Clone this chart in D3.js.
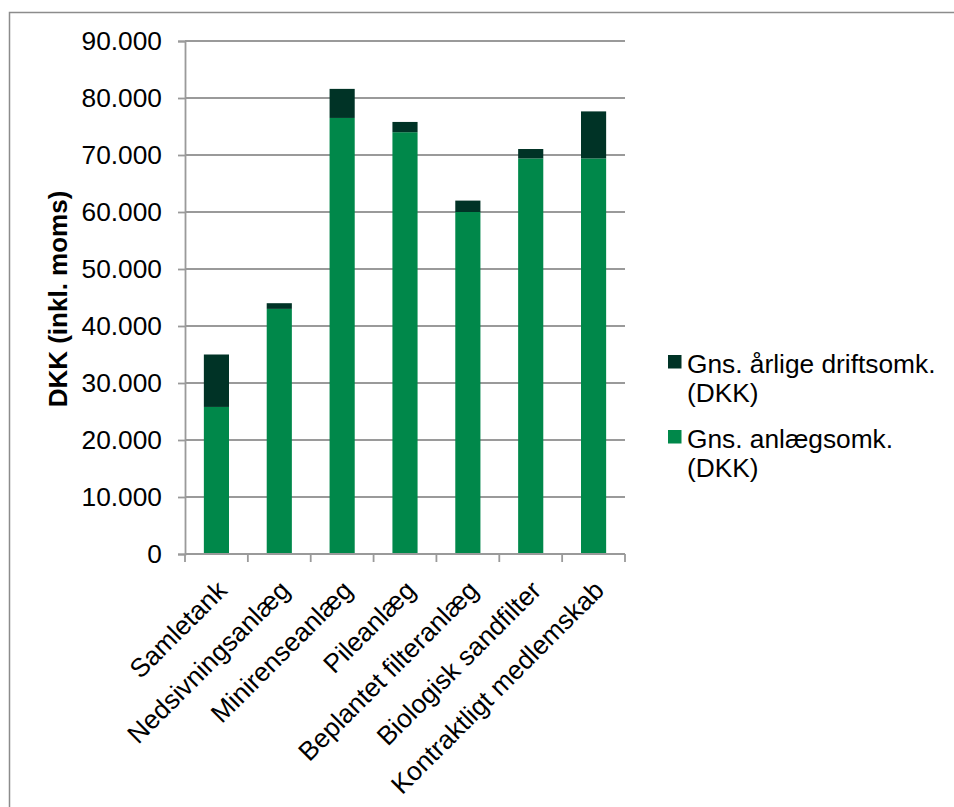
<!DOCTYPE html>
<html>
<head>
<meta charset="utf-8">
<script src="https://cdn.jsdelivr.net/npm/d3@7"></script>
<style>
  html, body { margin: 0; padding: 0; background: #fff; }
  svg { display: block; font-family: "Liberation Sans", Arial, sans-serif; }
</style>
</head>
<body>
<svg id="chart" width="954" height="807"></svg>
<script>
const categories = ["Samletank", "Nedsivningsanlæg", "Minirenseanlæg", "Pileanlæg",
  "Beplantet filteranlæg", "Biologisk sandfilter", "Kontraktligt medlemskab"];
const anlaeg = [25800, 43000, 76500, 74000, 60000, 69400, 69400];
const drift = [9200, 1000, 5100, 1800, 2000, 1650, 8250];
const seriesNames = ["Gns. årlige driftsomk.", "Gns. anlægsomk."];
const seriesSub = ["(DKK)", "(DKK)"];
const yTicks = [0, 10000, 20000, 30000, 40000, 50000, 60000, 70000, 80000, 90000];
const yTitle = "DKK (inkl. moms)";

const colors = { anlaeg: "#00884a", drift: "#003326" };
const FS = 26.3;
const svg = d3.select("#chart");

// outer border
svg.append("rect").attr("x", 9.5).attr("y", 12.5).attr("width", 1000).attr("height", 1000)
  .attr("fill", "none").attr("stroke", "#8c8c8c").attr("stroke-width", 1.5);

const pLeft = 185, pRight = 625, pTop = 41, pBottom = 554;
const x = d3.scaleBand().domain(categories).range([pLeft, pRight]).paddingInner(0.6).paddingOuter(0.3);
const xOuter = d3.scaleBand().domain(categories).range([pLeft, pRight]).padding(0);
const y = d3.scaleLinear().domain([0, 90000]).range([pBottom, pTop]);

const loc = d3.formatLocale({ decimal: ",", thousands: ".", grouping: [3], currency: ["", ""] });
const fmt = loc.format(",d");

// gridlines
svg.append("g").selectAll("line").data(yTicks.filter(d => d > 0)).join("line")
  .attr("x1", pLeft).attr("x2", pRight)
  .attr("y1", d => y(d)).attr("y2", d => y(d))
  .attr("stroke", "#9a9a9a").attr("stroke-width", 1.8);

// bars
const stack = categories.map((c, i) => ({ c, a: anlaeg[i], d: drift[i] }));
const g = svg.append("g");
g.selectAll("rect.a").data(stack).join("rect").attr("class", "a")
  .attr("x", d => x(d.c)).attr("width", x.bandwidth())
  .attr("y", d => y(d.a)).attr("height", d => y(0) - y(d.a))
  .attr("fill", colors.anlaeg);
g.selectAll("rect.d").data(stack).join("rect").attr("class", "d")
  .attr("x", d => x(d.c)).attr("width", x.bandwidth())
  .attr("y", d => y(d.a + d.d)).attr("height", d => y(d.a) - y(d.a + d.d))
  .attr("fill", colors.drift);

// y axis
const yAxis = d3.axisLeft(y).tickValues(yTicks).tickFormat(fmt).tickSize(7).tickPadding(16);
const ya = svg.append("g").attr("transform", `translate(${pLeft},0)`).call(yAxis);
ya.select(".domain").attr("stroke", "#9a9a9a").attr("stroke-width", 1.8);
ya.selectAll(".tick line").attr("stroke", "#9a9a9a").attr("stroke-width", 1.8);
ya.selectAll(".tick text").attr("font-size", FS).attr("fill", "#000")
  .attr("font-family", '"Liberation Sans", Arial, sans-serif');

// x axis line and ticks at category boundaries
svg.append("line").attr("x1", pLeft).attr("x2", pRight).attr("y1", pBottom).attr("y2", pBottom)
  .attr("stroke", "#9a9a9a").attr("stroke-width", 1.8);
const bounds = categories.map(c => xOuter(c)).concat([pRight]);
svg.append("g").selectAll("line").data(bounds).join("line")
  .attr("x1", d => d).attr("x2", d => d).attr("y1", pBottom).attr("y2", pBottom + 8)
  .attr("stroke", "#9a9a9a").attr("stroke-width", 1.8);

// x labels
svg.append("g").selectAll("text").data(categories).join("text")
  .attr("transform", d => `translate(${x(d) + x.bandwidth() / 2 + 12},592) rotate(-45)`)
  .attr("text-anchor", "end").attr("font-size", FS).attr("fill", "#000")
  .text(d => d);

// y title
svg.append("text").attr("transform", "translate(58,299) rotate(-90)")
  .attr("text-anchor", "middle").attr("dy", "0.35em")
  .attr("font-size", 26).attr("font-weight", "bold").attr("fill", "#000")
  .text(yTitle);

// legend
const legend = svg.append("g");
const legendColors = [colors.drift, colors.anlaeg];
seriesNames.forEach((name, i) => {
  const base = 373 + i * 75;
  legend.append("rect").attr("x", 668).attr("y", base - 18).attr("width", 13.5).attr("height", 13.5)
    .attr("fill", legendColors[i]);
  const t = legend.append("text").attr("x", 687).attr("y", base).attr("font-size", FS).attr("fill", "#000");
  t.append("tspan").attr("x", 687).text(name);
  t.append("tspan").attr("x", 687).attr("dy", 29).text(seriesSub[i]);
});
</script>
</body>
</html>
